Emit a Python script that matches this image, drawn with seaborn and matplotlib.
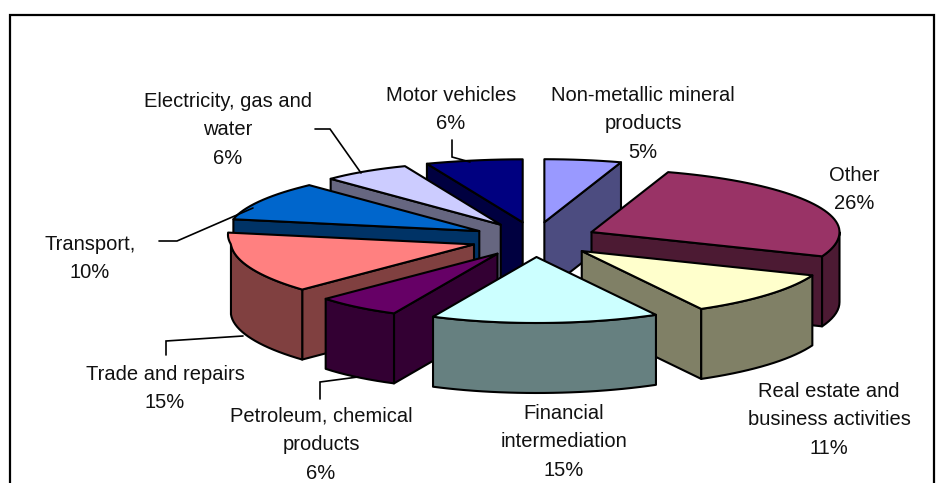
import numpy as np
import matplotlib
matplotlib.use("Agg")
import matplotlib.pyplot as plt
from matplotlib.patches import Polygon, Rectangle
import seaborn as sns

# ------ data, clockwise from 12 o'clock ------
sectors = ["Non-metallic mineral\nproducts", "Other", "Real estate and\nbusiness activities",
           "Financial\nintermediation", "Petroleum, chemical\nproducts", "Trade and repairs",
           "Transport,", "Electricity, gas and\nwater", "Motor vehicles"]
shares = [5, 26, 11, 15, 6, 15, 10, 6, 6]
top_colors = ["#9999FF", "#993366", "#FFFFCC", "#CCFFFF", "#660066",
              "#FF8080", "#0066CC", "#CCCCFF", "#000080"]
side_colors = ["#4C4C80", "#4C1A33", "#808066", "#668080", "#330033",
               "#804040", "#003366", "#666680", "#000040"]

# ------ layout, in pixels of the 940x483 picture ------
CX, CY = 534.5, 239.5
RX, RY_FAR, RY_NEAR = 248, 63, 66
EX, EY = 63, 17.5
DEPTH = 70
LW = 1.5
label_pos = [(643, 86), (854, 166), (829, 382), (564, 404), (321, 407),
             (165, 365), (90, 235), (228, 92), (451, 86)]
leaders = [[(315, 129), (330, 129), (361, 173)],
           [(452, 140), (452, 157), (470, 162)],
           [(159, 241), (177, 241), (253, 208)],
           [(166, 355), (166, 341), (243, 336)],
           [(320, 399), (320, 382), (358, 377)]]
# the drawn rim is not a true ellipse: width correction by angle (degrees)
rim_angle = [0, 180, 205, 227, 270, 281, 316, 338, 360]
rim_width = [1, 1, .98, .95, .98, 1.01, 1, 1.05, 1]

sns.set_theme(style="white")
plt.rcParams["font.family"] = ["Liberation Sans", "DejaVu Sans"]

fig, ax = plt.subplots(figsize=(9.4, 4.83), dpi=100)
fig.subplots_adjust(0, 0, 1, 1)
ax.set_xlim(0, 940)
ax.set_ylim(483, 0)
ax.axis("off")

ax.add_patch(Rectangle((9.5, 14.5), 924, 490, fc="white", ec="black", lw=1.6))

tops = sns.color_palette(top_colors)
sides = sns.color_palette(side_colors)

edges = np.cumsum([0] + shares) / sum(shares) * 2 * np.pi
mids = (edges[:-1] + edges[1:]) / 2


def rim(ax0, ay0, a, b):
    t = np.linspace(a, b, max(int(np.degrees(b - a) / 2), 2))
    width = RX * np.interp(np.degrees(t), rim_angle, rim_width)
    height = np.where(np.cos(t) < 0, RY_NEAR, RY_FAR)
    return np.column_stack([ax0 + width * np.sin(t), ay0 - height * np.cos(t)])


def wall(points, color):
    # extrude a top edge straight down
    lower = points + np.array([0, DEPTH])
    poly = np.vstack([points, lower[::-1]])
    ax.add_patch(Polygon(poly, closed=True, fc=color, ec="black", lw=LW, joinstyle="round"))


# far slices first so the near ones paint over them
for i in np.argsort(-np.cos(mids)):
    a, b = edges[i], edges[i + 1]
    apex = np.array([CX + EX * np.sin(mids[i]), CY - EY * np.cos(mids[i])])
    edge = rim(apex[0], apex[1], a, b)

    if np.sin(a) < 0:
        wall(np.vstack([apex, edge[0]]), sides[i])
    if np.sin(b) > 0:
        wall(np.vstack([apex, edge[-1]]), sides[i])

    # the part of the rim turned towards the viewer
    lo, hi = max(a, np.pi / 2), min(b, 3 * np.pi / 2)
    if lo < hi:
        wall(rim(apex[0], apex[1], lo, hi), sides[i])

    ax.add_patch(Polygon(np.vstack([apex, edge]), closed=True, fc=tops[i], ec="black",
                         lw=LW, joinstyle="round"))

for line in leaders:
    xs, ys = zip(*line)
    ax.plot(xs, ys, color="black", lw=1.2, solid_joinstyle="miter")

for name, share, (x, y) in zip(sectors, shares, label_pos):
    ax.text(x, y, f"{name}\n{share}%", ha="center", va="top",
            fontsize=14.5, color="#111111", linespacing=1.62)

fig.savefig("out.png", dpi=100)
